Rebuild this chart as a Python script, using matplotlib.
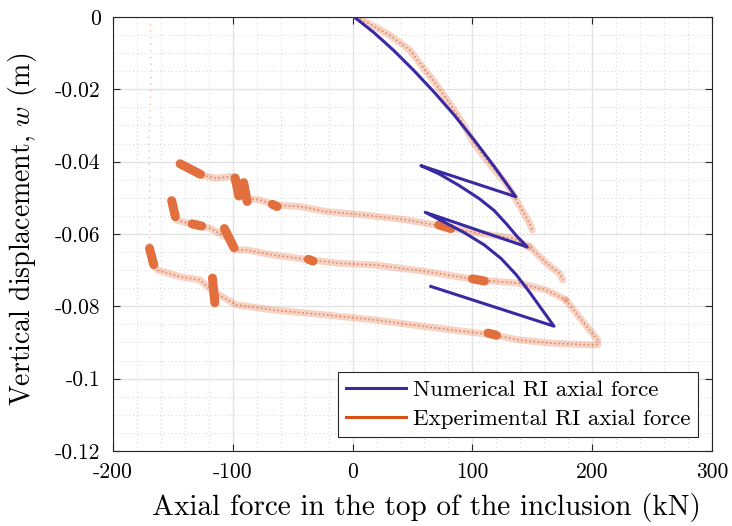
import numpy as np
import matplotlib
matplotlib.use("Agg")
import matplotlib.pyplot as plt
from matplotlib.lines import Line2D

plt.rcParams["font.family"] = "cmr10"
plt.rcParams["mathtext.fontset"] = "cm"
plt.rcParams["axes.unicode_minus"] = False

# Numerical RI axial force (kN) vs vertical displacement (m)
num_force = [1.4, 18.1, 34.8, 51.4, 68.1, 84.8, 101.4, 118.1, 136.2,
             57,
             72.3, 88.9, 105.6, 118.1, 128.9, 137.3, 145.8,
             60.6,
             76.4, 93.1, 109.8, 124, 136.4, 147.3, 158.1, 168.1,
             65.3]
num_disp = [0, -0.0044, -0.0094, -0.0149, -0.0208, -0.0271, -0.034, -0.0413, -0.0497,
            -0.0411,
            -0.0434, -0.0466, -0.0502, -0.0535, -0.0574, -0.0607, -0.0636,
            -0.054,
            -0.0567, -0.0596, -0.063, -0.0668, -0.0712, -0.0759, -0.0809, -0.0855,
            -0.0745]

# Experimental RI axial force, traced branch by branch (envelope + reloads)
env1_force = [3, 5.8, 30.9, 47.6, 56, 67, 81, 92, 100.4, 114, 128, 136.6, 147.7, 150]
env1_disp = [0, -0.0004, -0.005, -0.0091, -0.0128, -0.0174, -0.0239, -0.0294,
             -0.0345, -0.0405, -0.046, -0.0506, -0.057, -0.0589]
env2_force = [145, 147.7, 161.5, 172.7, 175.5]
env2_disp = [-0.0635, -0.0635, -0.068, -0.0709, -0.0727]
env3_force = [178, 189, 197.8, 204.7]
env3_disp = [-0.0782, -0.0829, -0.0865, -0.0893]

relA_force = [-144, -126, -114, -101, -96, -90, -77.5, -65, -44, -22, 8.6,
              44.8, 76.8, 106, 133.8, 147.7]
relA_disp = [-0.0404, -0.0437, -0.0446, -0.0441, -0.047, -0.05, -0.0506, -0.052,
             -0.0524, -0.0538, -0.0547, -0.0561, -0.058, -0.0598, -0.0612, -0.0635]
relB_force = [-152, -147, -133, -119, -104, -98, -88.6, -66.5, -34.5, -11,
              19.7, 58, 104.6, 139, 161.5, 172.7, 178]
relB_disp = [-0.0506, -0.0561, -0.0575, -0.0584, -0.0612, -0.0644, -0.0644,
             -0.0658, -0.0672, -0.0681, -0.0686, -0.0702, -0.0727, -0.0736,
             -0.0755, -0.0773, -0.0782]
relC_force = [-169.4, -166.7, -162.5, -144, -127.5, -116, -97, -66.5, -22,
              19.7, 58, 117, 139, 167, 200.6, 205]
relC_disp = [-0.0635, -0.0681, -0.07, -0.0718, -0.0727, -0.076, -0.0796, -0.081,
             -0.0824, -0.0838, -0.0855, -0.0879, -0.0893, -0.0902, -0.0907, -0.0905]

# sparse trace at the left
side_force = [-169, -168.5, -168, -169, -170, -169.5, -169, -169.5]
side_disp = [0, -0.008, -0.016, -0.025, -0.035, -0.045, -0.055, -0.0635]

# dense clusters of samples (start/end of each cluster)
clu_force = [(-144, -127), (-98, -95), (-91, -88), (-67, -63), (72, 82),
             (-151, -148), (-134, -126), (-107, -99), (-37, -33), (100, 110),
             (-169.5, -166), (-117, -115), (113, 120)]
clu_disp = [(-0.0406, -0.0435), (-0.0445, -0.0495), (-0.0458, -0.051),
            (-0.0518, -0.0524), (-0.0575, -0.0585),
            (-0.0508, -0.0552), (-0.0572, -0.0578), (-0.0585, -0.0638),
            (-0.067, -0.0675), (-0.0724, -0.073),
            (-0.064, -0.0685), (-0.0722, -0.079), (-0.0874, -0.088)]

x_ticks = [-200, -100, 0, 100, 200, 300]
y_ticks = [-0.12, -0.1, -0.08, -0.06, -0.04, -0.02, 0]
y_tick_labels = ["-0.12", "-0.1", "-0.08", "-0.06", "-0.04", "-0.02", "0"]

blue = "#3A2AA2"
orange = "#E2703F"

fig = plt.figure(figsize=(7.32, 5.26), dpi=100)
ax = fig.add_axes([0.1544, 0.1426, 0.8183, 0.8251])

branches = [(env1_force, env1_disp), (env2_force, env2_disp), (env3_force, env3_disp),
            (relA_force, relA_disp), (relB_force, relB_disp), (relC_force, relC_disp)]
for fx, fy in branches:
    ax.plot(fx, fy, color=orange, lw=5, alpha=0.3, solid_capstyle="round",
            solid_joinstyle="round", zorder=2)
    ax.plot(fx, fy, color=orange, lw=1.2, alpha=0.75, linestyle=(0, (1, 1.5)), zorder=2)
ax.plot(side_force, side_disp, color=orange, lw=0.8, alpha=0.7,
        linestyle=(0, (1, 5)), zorder=2)
for cf, cd in zip(clu_force, clu_disp):
    ax.plot(cf, cd, color=orange, lw=6.5, solid_capstyle="round", zorder=3)

ax.plot(num_force, num_disp, color=blue, lw=2.2, solid_joinstyle="round", zorder=4)

ax.set_xlim(-200, 300)
ax.set_ylim(-0.12, 0)
ax.set_xticks(x_ticks)
ax.set_xticklabels([str(v) for v in x_ticks])
ax.set_yticks(y_ticks)
ax.set_yticklabels(y_tick_labels)
ax.set_xticks(np.arange(-200, 301, 20), minor=True)
ax.set_yticks(np.arange(-0.12, 0.0001, 0.005), minor=True)
ax.grid(True, which="major", color="#e3e3e3", lw=1)
ax.grid(True, which="minor", color="#d0d0d0", lw=0.7, linestyle=(0, (1, 3)))
ax.set_axisbelow(True)
ax.tick_params(which="both", direction="in", top=True, right=True, labelsize=15.5,
               color="#262626")
ax.tick_params(which="minor", length=0)
ax.tick_params(which="major", length=5)
ax.tick_params(axis="y", pad=9)
ax.tick_params(axis="x", pad=8)
for s in ax.spines.values():
    s.set_color("#262626")
    s.set_linewidth(0.8)

ax.set_xlabel("Axial force in the top of the inclusion (kN)", fontsize=21)
ax.set_ylabel(r"Vertical displacement, $w$ (m)", fontsize=20)
ax.xaxis.set_label_coords(0.524, -0.097)
ax.yaxis.set_label_coords(-0.124, 0.51)

handles = [Line2D([], [], color=blue, lw=2.2),
           Line2D([], [], color="#D95319", lw=2.2, marker=".", markersize=2)]
leg = ax.legend(handles, ["Numerical RI axial force", "Experimental RI axial force"],
                loc="lower right", fontsize=16.5, fancybox=False, framealpha=1,
                edgecolor="#262626", handlelength=2.6, handletextpad=0.3,
                borderpad=0.35, labelspacing=0.4, borderaxespad=0.6)
leg.get_frame().set_linewidth(0.8)

fig.savefig("out.png", dpi=100)
